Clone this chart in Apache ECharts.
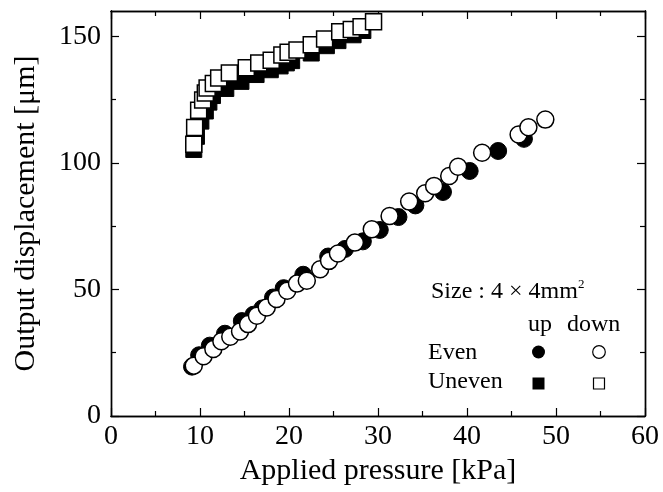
<!DOCTYPE html>
<html>
<head>
<meta charset="utf-8">
<script src="https://cdn.jsdelivr.net/npm/echarts@6/dist/echarts.min.js"></script>
<style>
html,body{margin:0;padding:0;background:#fff;}
#c{width:663px;height:492px;}
</style>
</head>
<body>
<div id="c"></div>
<script>
// ---- data ----
const evenUpX   = [9.1, 9.9, 11.1, 12.8, 14.7, 16.0, 17.0, 18.2, 19.4, 21.6, 24.4, 26.3, 28.3, 30.2, 32.3, 34.2, 37.3, 40.3, 43.5, 46.4];
const evenUpY   = [19.5, 24.0, 27.8, 32.5, 37.5, 40.0, 42.5, 46.8, 50.5, 55.8, 63.0, 66.0, 69.0, 73.5, 78.6, 83.2, 88.5, 96.8, 104.7, 109.5];
const evenDownX = [9.3, 10.4, 11.5, 12.4, 13.4, 14.5, 15.4, 16.4, 17.5, 18.6, 19.8, 20.9, 22.0, 23.5, 24.5, 25.5, 27.4, 29.3, 31.3, 33.5, 35.3, 36.3, 38.0, 39.0, 41.7, 45.8, 46.9, 48.8];
const evenDownY = [19.9, 23.6, 26.5, 29.5, 31.3, 33.4, 36.3, 39.6, 42.9, 46.2, 49.5, 52.3, 53.4, 58.0, 61.3, 64.2, 68.5, 73.8, 79.0, 84.7, 88.0, 90.9, 94.8, 98.5, 104.0, 111.2, 114.1, 117.1];
const unevenUpX   = [9.3, 9.6, 10.1, 10.6, 11.0, 11.4, 12.9, 14.6, 16.3, 17.9, 19.0, 19.7, 20.3, 22.5, 24.2, 25.5, 27.2, 28.3];
const unevenUpY   = [105.3, 110.5, 116.5, 120.5, 124.0, 126.6, 129.4, 132.2, 134.9, 136.8, 138.3, 139.5, 140.4, 143.4, 146.3, 148.3, 150.6, 152.3];
const unevenDownX = [9.3, 9.4, 9.85, 10.3, 10.6, 10.8, 11.5, 12.1, 13.3, 15.2, 16.6, 18.0, 19.2, 19.9, 20.9, 22.5, 24.0, 25.7, 27.0, 28.1, 29.5];
const unevenDownY = [107.4, 114.0, 120.8, 124.8, 127.6, 129.6, 131.4, 133.5, 135.5, 137.6, 139.5, 140.5, 142.6, 143.7, 144.6, 146.7, 148.9, 151.8, 152.7, 153.8, 155.8];

const xMajorTicks = [0, 10, 20, 30, 40, 50, 60];
const xMinorTicks = [5, 15, 25, 35, 45, 55];
const yMajorTicks = [0, 50, 100, 150];
const yMinorTicks = [25, 75, 125];

const xTitle = 'Applied pressure [kPa]';
const yTitle = 'Output displacement [\u03bcm]';

// ---- build ----
const FONT = '"Liberation Serif", "Times New Roman", serif';
const pairs = (xs, ys) => xs.map((x, i) => [x, ys[i]]);

function xAxisDef(pos, ticks, len, withLabel) {
  return {
    type: 'value', min: 0, max: 60, position: pos,
    axisLine: {show: true, onZero: false, lineStyle: {color: '#000', width: 1.4}},
    axisTick: {show: true, inside: true, length: len, customValues: ticks, lineStyle: {color: '#000', width: 1.2}},
    axisLabel: withLabel ? {show: true, customValues: ticks, margin: 7, color: '#000', fontFamily: FONT, fontSize: 28} : {show: false},
    splitLine: {show: false},
    name: withLabel ? xTitle : '',
    nameLocation: 'middle', nameGap: 40,
    nameTextStyle: {color: '#000', fontFamily: FONT, fontSize: 30}
  };
}
function yAxisDef(pos, ticks, len, withLabel) {
  return {
    type: 'value', min: 0, max: 160, position: pos,
    axisLine: {show: true, onZero: false, lineStyle: {color: '#000', width: 1.4}},
    axisTick: {show: true, inside: true, length: len, customValues: ticks, lineStyle: {color: '#000', width: 1.2}},
    axisLabel: withLabel ? {show: true, customValues: ticks, margin: 10, color: '#000', fontFamily: FONT, fontSize: 28} : {show: false},
    splitLine: {show: false},
    name: withLabel ? yTitle : '',
    nameLocation: 'middle', nameGap: 70,
    nameTextStyle: {color: '#000', fontFamily: FONT, fontSize: 30}
  };
}

const filled = {color: '#000', borderColor: '#000', borderWidth: 1, opacity: 1};
const open = {color: '#fff', borderColor: '#000', borderWidth: 1.5, opacity: 1};

const option = {
  backgroundColor: '#fff',
  animation: false,
  grid: {left: 111, right: 18, top: 11, bottom: 76, show: false},
  xAxis: [
    xAxisDef('bottom', xMajorTicks, 8, true),
    xAxisDef('bottom', xMinorTicks, 5, false),
    xAxisDef('top', xMajorTicks, 8, false),
    xAxisDef('top', xMinorTicks, 5, false)
  ],
  yAxis: [
    yAxisDef('left', yMajorTicks, 8, true),
    yAxisDef('left', yMinorTicks, 5, false),
    yAxisDef('right', yMajorTicks, 8, false),
    yAxisDef('right', yMinorTicks, 5, false)
  ],
  series: [
    {name: 'Uneven up', type: 'scatter', symbol: 'rect', symbolSize: 16, itemStyle: filled, emphasis: {disabled: true}, data: pairs(unevenUpX, unevenUpY), z: 2},
    {name: 'Even up', type: 'scatter', symbol: 'circle', symbolSize: 17, itemStyle: filled, emphasis: {disabled: true}, data: pairs(evenUpX, evenUpY), z: 2},
    {name: 'Uneven down', type: 'scatter', symbol: 'rect', symbolSize: 16, itemStyle: open, emphasis: {disabled: true}, data: pairs(unevenDownX, unevenDownY), z: 3},
    {name: 'Even down', type: 'scatter', symbol: 'circle', symbolSize: 17, itemStyle: open, emphasis: {disabled: true}, data: pairs(evenDownX, evenDownY), z: 3}
  ],
  graphic: [
    {type: 'text', left: 431, top: 280, style: {text: 'Size : 4 \u00d7 4mm', font: '24px ' + FONT, fill: '#000'}},
    {type: 'text', left: 578, top: 278, style: {text: '2', font: '13px ' + FONT, fill: '#000'}},
    {type: 'text', left: 528, top: 313, style: {text: 'up', font: '24px ' + FONT, fill: '#000'}},
    {type: 'text', left: 567, top: 313, style: {text: 'down', font: '24px ' + FONT, fill: '#000'}},
    {type: 'text', left: 428, top: 341, style: {text: 'Even', font: '24px ' + FONT, fill: '#000'}},
    {type: 'text', left: 428, top: 370, style: {text: 'Uneven', font: '24px ' + FONT, fill: '#000'}},
    {type: 'circle', shape: {cx: 538.5, cy: 352, r: 6.5}, style: {fill: '#000'}},
    {type: 'circle', shape: {cx: 599, cy: 352, r: 6.3}, style: {fill: '#fff', stroke: '#000', lineWidth: 1.2}},
    {type: 'rect', shape: {x: 532.5, y: 377.5, width: 12, height: 12}, style: {fill: '#000'}},
    {type: 'rect', shape: {x: 593.5, y: 378, width: 11, height: 11}, style: {fill: '#fff', stroke: '#000', lineWidth: 1.2}}
  ]
};

const chart = echarts.init(document.getElementById('c'), null, {renderer: 'canvas'});
chart.setOption(option);
</script>
</body>
</html>
